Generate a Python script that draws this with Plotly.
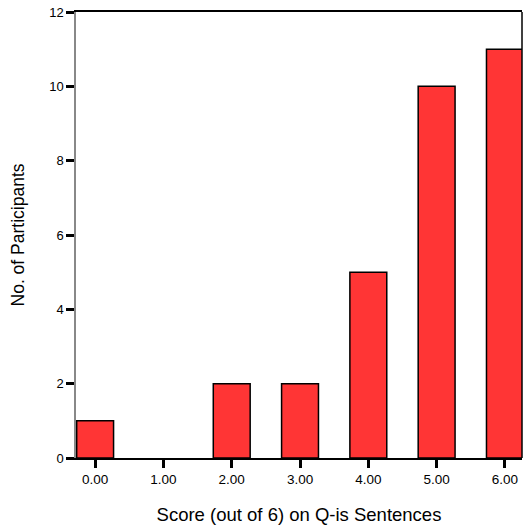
import plotly.graph_objects as go

categories = ["0.00", "1.00", "2.00", "3.00", "4.00", "5.00", "6.00"]
scores = [0, 1, 2, 3, 4, 5, 6]
counts = [1, 0, 2, 2, 5, 10, 11]
y_ticks = [0, 2, 4, 6, 8, 10, 12]

outline_widths = [0 if c == 0 else 1.5 for c in counts]

fig = go.Figure()
fig.add_trace(go.Bar(
    x=scores, y=counts, width=0.54,
    marker=dict(color="#FF3535", line=dict(color="black", width=outline_widths)),
))

fig.update_layout(
    width=523, height=527,
    margin=dict(l=76, r=1, t=12, b=69),
    paper_bgcolor="white", plot_bgcolor="white",
    font=dict(family="Liberation Sans, Arial, sans-serif", color="black"),
    showlegend=False,
    xaxis=dict(
        range=[-0.28, 6.25], tickmode="array", tickvals=scores, ticktext=categories,
        showgrid=False, zeroline=False,
        showline=True, linecolor="black", linewidth=1.5, mirror=True,
        ticks="outside", ticklen=8, tickwidth=3, tickcolor="black",
        tickfont=dict(size=13.5),
        title=dict(text="Score (out of 6) on Q-is Sentences", font=dict(size=18.5), standoff=22),
    ),
    yaxis=dict(
        range=[0, 12], tickmode="array", tickvals=y_ticks,
        showgrid=False, zeroline=False,
        showline=True, linecolor="#888888", linewidth=1.5, mirror=False,
        ticks="outside", ticklen=8, tickwidth=3, tickcolor="black",
        tickfont=dict(size=13),
        title=dict(text="No. of Participants", font=dict(size=17.5), standoff=20),
    ),
    shapes=[dict(type="line", xref="paper", yref="paper", x0=1, x1=1, y0=0, y1=1,
                 line=dict(color="black", width=1.5))],
)

fig.write_html("out.html", config={"displayModeBar": False},
               post_script="document.body.style.margin='0px';")
